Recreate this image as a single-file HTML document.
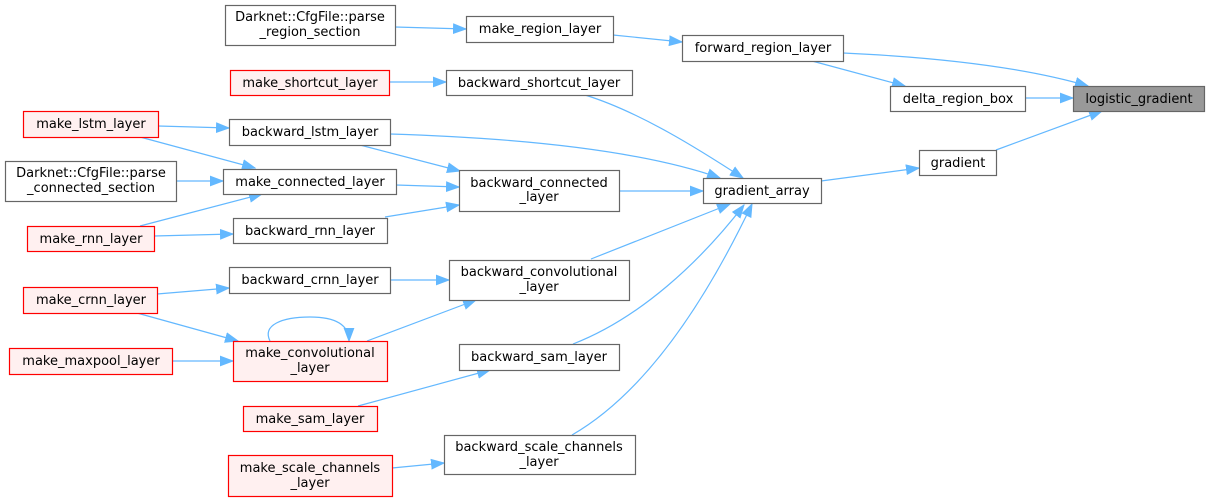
<!DOCTYPE html>
<html><head><meta charset="utf-8"><style>
html,body{margin:0;padding:0;background:#fff;}
svg{display:block;}
text{font-family:"DejaVu Sans","Liberation Sans",sans-serif;font-size:13px;fill:#000;text-anchor:middle;}
.n{fill:#fff;stroke:#666;stroke-width:1.2;}
.r{fill:#fff0f0;stroke:#ff0000;stroke-width:1.2;}
.g{fill:#999;stroke:#666;stroke-width:1.2;}
.e{fill:none;stroke:#63b8ff;stroke-width:1.2;}
</style></head><body>
<svg width="1209" height="501" viewBox="0 0 1209 501" xmlns="http://www.w3.org/2000/svg">
<defs>
<marker id="a" markerWidth="14" markerHeight="11" refX="13" refY="5.5" orient="auto" markerUnits="userSpaceOnUse">
<path d="M0.5,0.8 L13,5.5 L0.5,10.2 z" fill="#63b8ff" stroke="#63b8ff" stroke-width="1"/>
</marker>
</defs>
<g marker-end="url(#a)">
<path class="e" marker-end="url(#a)" d="M395,27 L466,29"/>
<path class="e" marker-end="url(#a)" d="M613,35 L682,42"/>
<path class="e" marker-end="url(#a)" d="M843,53 C930,57 1020,66 1088,86"/>
<path class="e" marker-end="url(#a)" d="M812,61 L905,86"/>
<path class="e" marker-end="url(#a)" d="M1025,98 L1073,98"/>
<path class="e" marker-end="url(#a)" d="M996,150 L1102,111"/>
<path class="e" marker-end="url(#a)" d="M821,181 L919,168"/>
<path class="e" marker-end="url(#a)" d="M619,191 L703,191"/>
<path class="e" marker-end="url(#a)" d="M585,95 C640,112 700,150 743,178"/>
<path class="e" marker-end="url(#a)" d="M390,134 C520,138 640,150 720,178"/>
<path class="e" marker-end="url(#a)" d="M591,259 L730,204"/>
<path class="e" marker-end="url(#a)" d="M573,344 C640,318 700,262 744,205"/>
<path class="e" marker-end="url(#a)" d="M572,435 C650,390 710,292 752,204"/>
<path class="e" marker-end="url(#a)" d="M389,82 L446,82"/>
<path class="e" marker-end="url(#a)" d="M158,126 L229,128"/>
<path class="e" marker-end="url(#a)" d="M140,137 L255,168"/>
<path class="e" marker-end="url(#a)" d="M360,145 L460,171"/>
<path class="e" marker-end="url(#a)" d="M176,181 L223,181"/>
<path class="e" marker-end="url(#a)" d="M396,185 L459,187"/>
<path class="e" marker-end="url(#a)" d="M140,226 L262,194"/>
<path class="e" marker-end="url(#a)" d="M154,236 L233,234"/>
<path class="e" marker-end="url(#a)" d="M385,217 L459,205"/>
<path class="e" marker-end="url(#a)" d="M390,280 L449,280"/>
<path class="e" marker-end="url(#a)" d="M157,294 L229,288"/>
<path class="e" marker-end="url(#a)" d="M137,313 L238,341"/>
<path class="e" marker-end="url(#a)" d="M270,341 C262,325 282,317 310,317 C336,317 349,325 349,341"/>
<path class="e" marker-end="url(#a)" d="M367,341 L476,300"/>
<path class="e" marker-end="url(#a)" d="M172,361 L233,361"/>
<path class="e" marker-end="url(#a)" d="M358,406 L490,370"/>
<path class="e" marker-end="url(#a)" d="M392,468 L444,463"/>
</g>

<rect class="n" x="225.5" y="5.5" width="170" height="40"/>
<text x="310" y="21">Darknet::CfgFile::parse</text>
<text x="310" y="36">_region_section</text>

<rect class="n" x="466.5" y="16.5" width="147" height="26"/>
<text x="540" y="33">make_region_layer</text>

<rect class="n" x="682.5" y="35.5" width="161" height="26"/>
<text x="763" y="52">forward_region_layer</text>

<rect class="r" x="230.5" y="70.5" width="159" height="25"/>
<text x="310" y="87">make_shortcut_layer</text>

<rect class="n" x="446.5" y="70.5" width="186" height="25"/>
<text x="539" y="87">backward_shortcut_layer</text>

<rect class="n" x="890.5" y="86.5" width="135" height="25"/>
<text x="958" y="103">delta_region_box</text>

<rect class="g" x="1073.5" y="86.5" width="131" height="25"/>
<text x="1139" y="103">logistic_gradient</text>

<rect class="r" x="23.5" y="111.5" width="135" height="26"/>
<text x="91" y="128">make_lstm_layer</text>

<rect class="n" x="229.5" y="119.5" width="161" height="26"/>
<text x="310" y="136">backward_lstm_layer</text>

<rect class="n" x="919.5" y="150.5" width="77" height="25"/>
<text x="958" y="167">gradient</text>

<rect class="n" x="5.5" y="161.5" width="171" height="40"/>
<text x="91" y="177">Darknet::CfgFile::parse</text>
<text x="91" y="192">_connected_section</text>

<rect class="n" x="223.5" y="169.5" width="173" height="25"/>
<text x="310" y="186">make_connected_layer</text>

<rect class="n" x="459.5" y="170.5" width="160" height="41"/>
<text x="539" y="187">backward_connected</text>
<text x="539" y="201">_layer</text>

<rect class="n" x="703.5" y="178.5" width="118" height="25"/>
<text x="762" y="195">gradient_array</text>

<rect class="n" x="233.5" y="218.5" width="154" height="25"/>
<text x="310" y="235">backward_rnn_layer</text>

<rect class="r" x="27.5" y="226.5" width="127" height="25"/>
<text x="91" y="243">make_rnn_layer</text>

<rect class="n" x="229.5" y="267.5" width="161" height="26"/>
<text x="310" y="284">backward_crnn_layer</text>

<rect class="n" x="449.5" y="260.5" width="180" height="40"/>
<text x="539" y="276">backward_convolutional</text>
<text x="539" y="291">_layer</text>

<rect class="r" x="23.5" y="287.5" width="134" height="26"/>
<text x="91" y="304">make_crnn_layer</text>

<rect class="r" x="233.5" y="341.5" width="154" height="40"/>
<text x="310" y="357">make_convolutional</text>
<text x="310" y="372">_layer</text>

<rect class="r" x="9.5" y="348.5" width="163" height="26"/>
<text x="91" y="365">make_maxpool_layer</text>

<rect class="n" x="459.5" y="344.5" width="160" height="26"/>
<text x="539" y="361">backward_sam_layer</text>

<rect class="r" x="243.5" y="406.5" width="134" height="25"/>
<text x="310" y="423">make_sam_layer</text>

<rect class="n" x="444.5" y="435.5" width="191" height="39"/>
<text x="539" y="451">backward_scale_channels</text>
<text x="539" y="466">_layer</text>

<rect class="r" x="228.5" y="455.5" width="164" height="41"/>
<text x="310" y="472">make_scale_channels</text>
<text x="310" y="487">_layer</text>
</svg>
</body></html>
